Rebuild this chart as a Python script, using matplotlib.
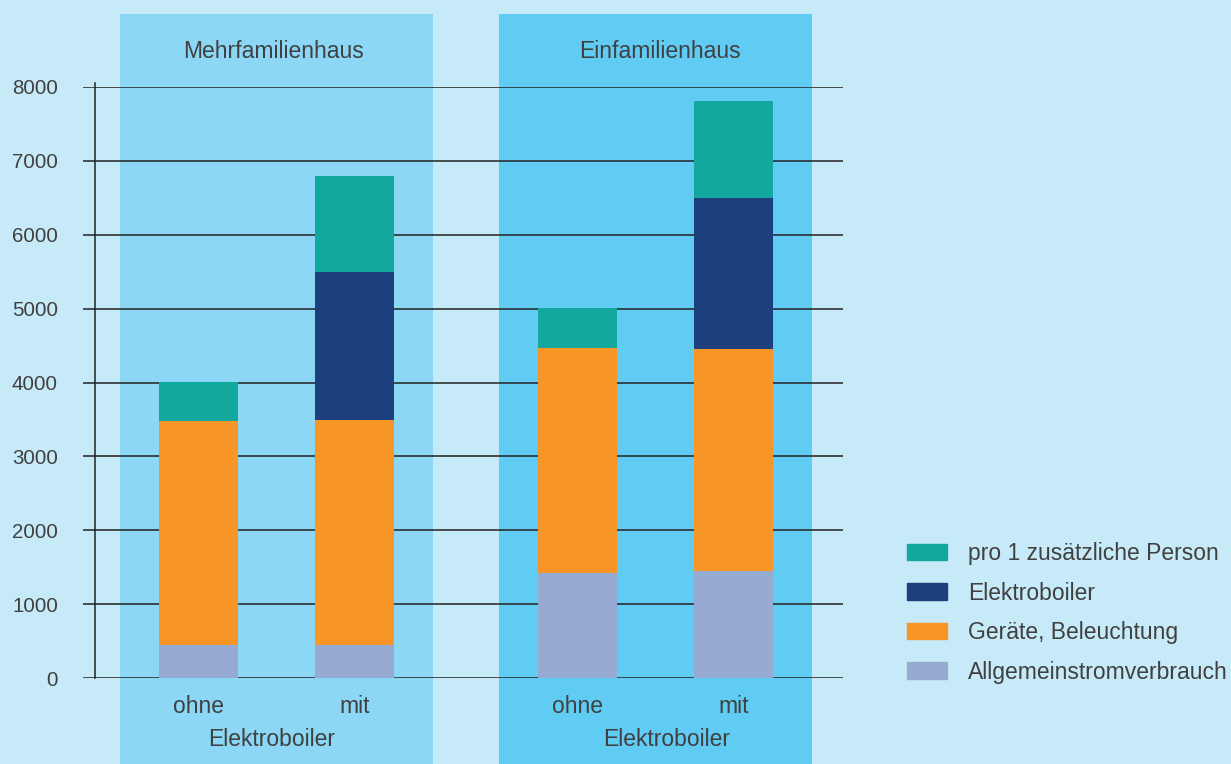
import matplotlib.pyplot as plt
import matplotlib.transforms as mtransforms
from matplotlib.patches import Patch

plt.rcParams['font.family'] = ['Liberation Sans', 'DejaVu Sans']

# Daten (kWh pro Jahr)
gruppen = ['Mehrfamilienhaus', 'Einfamilienhaus']
varianten = ['ohne', 'mit', 'ohne', 'mit']
untertitel = 'Elektroboiler'
allgemein = [440, 440, 1420, 1450]
geraete = [3040, 3050, 3045, 3000]
elektroboiler = [0, 2000, 0, 2045]
person = [520, 1310, 540, 1310]
serien_namen = ['Allgemeinstromverbrauch', 'Geräte, Beleuchtung',
                'Elektroboiler', 'pro 1 zusätzliche Person']
y_ticks = list(range(0, 8001, 1000))

farben = ['#97abd2', '#f79527', '#1d3f7e', '#13a89e']
hintergrund = '#c7eaf9'
panel_farben = ['#8bd7f5', '#60cbf3']
textfarbe = '#404040'
fs = 16.5
fs_tick = 14.8

W, H = 1231, 764
fig = plt.figure(figsize=(W / 100, H / 100), dpi=100, facecolor=hintergrund)
ax = fig.add_axes([83 / W, 1 - 678 / H, (843 - 83) / W, 591 / H])
ax.patch.set_visible(False)

# Positionen: zwei Gruppen mit je zwei Balken
abstand = 1.43
pos = [0, 1, abstand + 1, abstand + 2]
breite = 0.506

# Hintergrund-Panels je Gruppe
unten = (678 - 764) / 591
oben = (678 - 14) / 591
titel_versatz = [-0.02, 0.03]
unter_versatz = [-0.03, 0.07]
trans = mtransforms.blended_transform_factory(ax.transData, ax.transAxes)
for g in range(2):
    mitte = (pos[2 * g] + pos[2 * g + 1]) / 2
    ax.axvspan(mitte - 1.0035, mitte + 1.0035, ymin=unten, ymax=oben,
               color=panel_farben[g], lw=0, clip_on=False, zorder=0.1)
    ax.text(mitte + titel_versatz[g], (678 - 51) / 591, gruppen[g],
            transform=trans, ha='center', va='center', fontsize=fs,
            color=textfarbe)
    ax.text(mitte + unter_versatz[g], (678 - 740) / 591, untertitel,
            transform=trans, ha='center', va='center', fontsize=fs,
            color=textfarbe)

# gestapelte Balken
boden = [0, 0, 0, 0]
for werte, farbe, name in zip([allgemein, geraete, elektroboiler, person],
                              farben, serien_namen):
    ax.bar(pos, werte, breite, bottom=boden, color=farbe, label=name,
           zorder=2, lw=0)
    boden = [b + w for b, w in zip(boden, werte)]

ax.set_xlim(-0.74, 4.131)
ax.set_ylim(0, 8000)
ax.set_yticks(y_ticks)
ax.yaxis.grid(True, color='#222222', lw=1.1)
ax.set_axisbelow(True)
ax.set_xticks(pos, varianten)
ax.tick_params(length=0, labelcolor=textfarbe)
ax.tick_params(axis='y', pad=18, labelsize=fs_tick)
ax.tick_params(axis='x', pad=12, labelsize=fs)
for s in ax.spines.values():
    s.set_visible(False)
ax.axvline(-0.663, ymin=0, ymax=1.006, color='#222222', lw=1.1,
           clip_on=False, zorder=1)

# Legende (umgekehrte Reihenfolge)
griffe = [Patch(color=f, label=n) for f, n in zip(farben, serien_namen)][::-1]
fig.legend(handles=griffe, loc='upper left',
           bbox_to_anchor=(907 / W, 1 - 542 / H), frameon=False,
           fontsize=fs, handlelength=1.75, handleheight=0.74,
           handletextpad=0.92, labelspacing=0.72, borderpad=0,
           borderaxespad=0, labelcolor=textfarbe)

plt.savefig('out.png', dpi=100, facecolor=hintergrund)
plt.close()
